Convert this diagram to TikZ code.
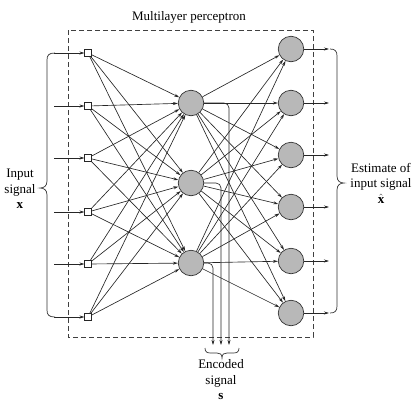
\documentclass[tikz,border=0pt]{standalone}
\usepackage{fontspec}
\setmainfont{Liberation Serif}
\usetikzlibrary{arrows.meta}
\begin{document}
\begin{tikzpicture}[x=1pt,y=-1pt,
  conn/.style={draw=black!85, line width=0.65pt, -{Stealth[length=5pt,width=3pt]}},
  inbox/.style={draw=black!85, fill=white, minimum size=6.5pt, inner sep=0pt, line width=0.6pt},
  neuron/.style={circle, draw=black!80, fill=black!28, minimum size=25.5pt, inner sep=0pt, line width=0.7pt},
  bracepath/.style={draw=black!80, line width=0.7pt},
  lbl/.style={font=\fontsize{13}{15.5}\selectfont, align=center, inner sep=0pt}]
\useasboundingbox (0,0) rectangle (419,402);

% dashed box
\draw[black!75, line width=0.7pt, dash pattern=on 5pt off 3pt] (68,30) rectangle (313,337);
\node[lbl] (title) at (189,17) {Multilayer perceptron};

% nodes
\foreach \i/\y in {1/53,2/106,3/158,4/212,5/264,6/317} {
  \node[inbox] (i\i) at (88,\y) {};
  \coordinate (s\i) at (54,\y);
}
\foreach \j/\y in {1/103,2/183,3/263} {
  \node[neuron] (h\j) at (191,\y) {};
}
\foreach \k/\y in {1/49,2/103,3/155,4/207,5/261,6/313} {
  \node[neuron] (o\k) at (291,\y) {};
  \coordinate (t\k) at (329,\y);
}

% input arrows
\foreach \i in {1,...,6} { \draw[conn] (s\i) -- (i\i.west); }
% input -> hidden
\foreach \i in {1,...,6} { \foreach \j in {1,2,3} { \draw[conn] (i\i) -- (h\j); } }
% hidden -> output
\foreach \j in {1,2,3} { \foreach \k in {1,...,6} { \draw[conn] (h\j) -- (o\k); } }
% outputs
\foreach \k in {1,...,6} { \draw[conn] (o\k.east) -- (t\k); }

% encoded lines
\coordinate (e1) at (213,345);
\coordinate (e2) at (221,345);
\coordinate (e3) at (229,345);
\draw[conn, rounded corners=5pt] (h1.east) -| (e3);
\draw[conn, rounded corners=5pt] (h2.east) -| (e2);
\draw[conn, rounded corners=5pt] (h3.east) -| (e1);

% left brace
\draw[bracepath] (55,53) .. controls (49,53) and (47,55) .. (47,60) -- (47,181)
  .. controls (47,186) and (44,188) .. (40,188)
  .. controls (44,188) and (47,190) .. (47,195) -- (47,310)
  .. controls (47,315) and (49,317) .. (55,317);
% right brace
\draw[bracepath] (330,49) .. controls (335,49) and (337,51) .. (337,56) -- (337,176)
  .. controls (337,181) and (340,183) .. (344,183)
  .. controls (340,183) and (337,185) .. (337,190) -- (337,306)
  .. controls (337,311) and (335,313) .. (330,313);
% bottom brace
\draw[bracepath] (205,348) .. controls (205,352) and (207,353) .. (211,353) -- (217,353)
  .. controls (220,353) and (222,354) .. (222,358)
  .. controls (222,354) and (224,353) .. (227,353) -- (233,353)
  .. controls (237,353) and (239,352) .. (239,348);

% labels
\node[lbl] (inlbl) at (20,189) {Input\\signal\\$\mathbf{x}$};
\node[lbl] (outlbl) at (381,183) {Estimate of\\input signal\\$\hat{\mathbf{x}}$};
\node[lbl] (enclbl) at (221,380) {Encoded\\signal\\$\mathbf{s}$};
\end{tikzpicture}
\end{document}
